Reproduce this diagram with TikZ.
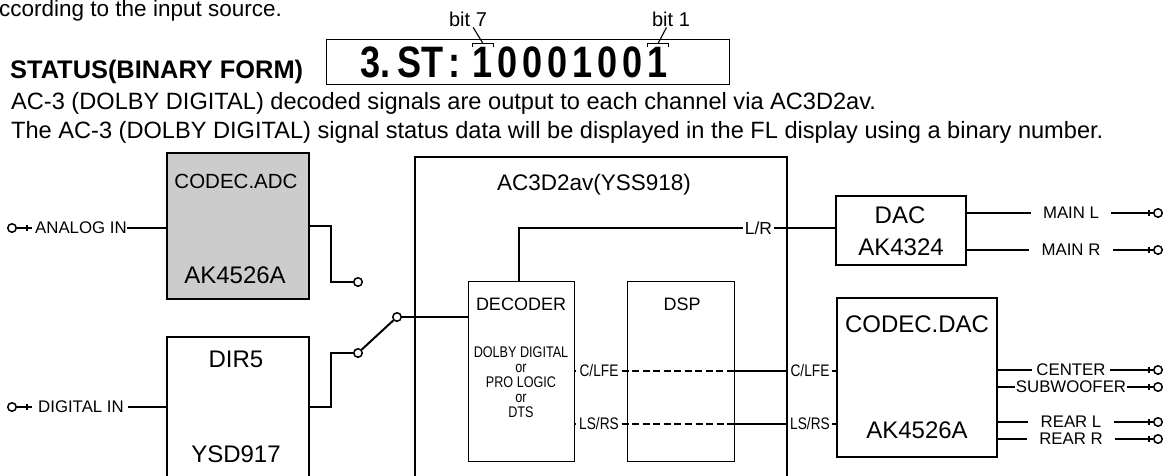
\documentclass[tikz,border=0pt]{standalone}
\usepackage{fontspec}
\setmainfont{Liberation Sans}
\newfontfamily\condfont[FakeStretch=0.82]{Liberation Sans}

\begin{document}
\begin{tikzpicture}[x=1pt, y=-1pt,
  box/.style = {draw, line width=2pt, inner sep=0},
  inbox/.style = {draw, line width=1pt, inner sep=0},
  wire/.style = {line width=2pt},
  twire/.style = {line width=1.1pt},
  term/.style = {draw, circle, line width=1.5pt, minimum size=8.5pt, inner sep=0},
  txt/.style = {anchor=base west, inner sep=0, font=\fontsize{23.6}{26}\selectfont},
  lbl/.style = {inner sep=0, font=\fontsize{16.8}{18}\selectfont},
  chl/.style = {inner xsep=3pt, inner ysep=0, font=\condfont\fontsize{16.7}{18}\selectfont},
  big/.style = {anchor=base, inner sep=0, font=\fontsize{24}{26}\selectfont},
  fl/.style = {anchor=base west, inner sep=0, font=\condfont\bfseries\fontsize{44}{46}\selectfont}]
\clip (0,0) rectangle (1166,475);

% heading
\node[txt, font=\fontsize{22.5}{24}\selectfont] (top) at (-1,16) {ccording to the input source.};
\node[anchor=base west, inner sep=0, font=\bfseries\fontsize{25.4}{27}\selectfont] (stat) at (10,78) {STATUS(BINARY FORM)};
\node[draw, line width=1pt, minimum width=403pt, minimum height=45pt] (stbox) at (527.5,61.5) {};
\node[fl] (st3) at (360,77) {3.};
\node[fl] (stst) at (397,77) {ST};
\node[fl] (stcol) at (448,77) {:};
\foreach \b [count=\i from 0] in {1,0,0,0,1,0,0,1}
  \node[fl, anchor=base] (dg\i) at (483+25*\i,77) {\b};
\draw[twire] (dg0.north west) -- ([yshift=3pt]dg0.north west) -- ([yshift=3pt]dg0.north east) -- (dg0.north east);
\draw[twire] (dg7.north west) -- ([yshift=3pt]dg7.north west) -- ([yshift=3pt]dg7.north east) -- (dg7.north east);
\node[anchor=base, inner sep=1pt, font=\fontsize{20}{22}\selectfont] (b7) at (468,26) {bit 7};
\node[anchor=base, inner sep=1pt, font=\fontsize{20}{22}\selectfont] (b1) at (671,26) {bit 1};
\draw[twire] (b7) -- ([yshift=3pt]dg0.north);
\draw[twire] (b1) -- ([yshift=3pt]dg7.north);
\node[txt] (ln1) at (11,109) {AC-3 (DOLBY DIGITAL) decoded signals are output to each channel via AC3D2av.};
\node[txt] (ln2) at (11,138) {The AC-3 (DOLBY DIGITAL) signal status data will be displayed in the FL display using a binary number.};

% blocks
\node[box, fill=gray!40, minimum width=142pt, minimum height=146pt] (adc) at (238,226) {};
\node[big, font=\fontsize{20.5}{22}\selectfont] (adct) at (236,188) {CODEC.ADC};
\node[big] (adcb) at (235,283) {AK4526A};
\node[box, minimum width=142pt, minimum height=163pt] (dir) at (238,418.5) {};
\node[big] (dirt) at (236,367) {DIR5};
\node[big] (dirb) at (236,462) {YSD917};
\node[box, minimum width=372pt, minimum height=343pt] (ac3) at (601,328.5) {};
\node[big, font=\fontsize{22.5}{24}\selectfont] (ac3t) at (594,190) {AC3D2av(YSS918)};
\node[inbox, minimum width=106pt, minimum height=180pt] (dec) at (521,371) {};
\node[big, font=\fontsize{18}{20}\selectfont] (dect) at (521,310) {DECODER};
\node[anchor=north, inner sep=0, align=center, font=\condfont\fontsize{15.4}{15}\selectfont] (dalg) at (521,347) {DOLBY DIGITAL\\or\\PRO LOGIC\\or\\DTS};
\node[inbox, minimum width=107pt, minimum height=180pt] (dsp) at (680.5,371) {};
\node[big, font=\fontsize{18}{20}\selectfont] (dspt) at (682,310) {DSP};
\node[box, minimum width=130pt, minimum height=69pt] (dac) at (901,230.5) {};
\node[big] (dact) at (900,223) {DAC};
\node[big] (dacb) at (901,255) {AK4324};
\node[box, minimum width=160pt, minimum height=159pt] (cdac) at (917,377.5) {};
\node[big] (cdact) at (917,332) {CODEC.DAC};
\node[big] (cdacb) at (917,438) {AK4526A};

% inputs
\node[term] (tain) at (12,228) {};
\node[lbl, anchor=west] (ain) at (35,228) {ANALOG IN};
\draw[wire] (tain) -- ([xshift=-3pt]ain.west);
\draw[wire] ([xshift=-8pt]ain.west) ++(0,-3) -- ++(0,6);
\draw[wire] (ain) -- (ain -| adc.west);
\node[term] (tdin) at (12,407) {};
\node[lbl, anchor=west] (din) at (38,407) {DIGITAL IN};
\draw[wire] (tdin) -- ([xshift=-6pt]din.west);
\draw[wire] ([xshift=-11pt]din.west) ++(0,-3) -- ++(0,6);
\draw[wire] ([xshift=4pt]din.east) -- (din -| dir.west);

% selector
\node[term] (sa) at (358,282) {};
\node[term] (sd) at (358,353) {};
\node[term] (sc) at (397,317) {};
\draw[wire] (adc.east) -- ++(21,0) |- (sa);
\draw[wire] (dir.east |- din) -- ++(21,0) |- (sd);
\draw[wire] (sd) -- (sc);
\draw[wire] (sc) -- (sc -| ac3.west);
\draw[twire] (sc -| ac3.west) -- (sc -| dec.west);

% channels
\node[lbl, inner xsep=2pt, font=\fontsize{17.4}{19}\selectfont] (lr) at (758.5,228) {L/R};
\draw[twire] ([xshift=-2pt]dec.north) |- (lr);
\draw[twire] (lr) -- (lr -| ac3.east);
\draw[wire] (lr -| ac3.east) -- (lr -| dac.west);
\node[chl] (clfe) at (599,371) {C/LFE};
\node[chl] (lsrs) at (599,424) {LS/RS};
\node[chl, inner xsep=2pt] (clfeout) at (810,371) {C/LFE};
\node[chl, inner xsep=2pt] (lsrsout) at (810,424) {LS/RS};
\draw[twire] (dec.east |- clfe) -- (clfe);
\draw[twire] (dec.east |- lsrs) -- (lsrs);
\draw[twire, dash pattern=on 7pt off 3.5pt] (clfe) -- (clfe -| dsp.east);
\draw[twire, dash pattern=on 7pt off 3.5pt] (lsrs) -- (lsrs -| dsp.east);
\draw[twire] (clfe -| dsp.east) -- (clfeout);
\draw[twire] (lsrs -| dsp.east) -- (lsrsout);
\draw[twire] (clfeout) -- (clfeout -| cdac.west);
\draw[twire] (lsrsout) -- (lsrsout -| cdac.west);

% outputs
\foreach \nm/\src/\y/\sep/\txt in {ml/dac/213/12pt/MAIN L, mr/dac/250/12pt/MAIN R, ce/cdac/370/4pt/CENTER, sw/cdac/387/1pt/SUBWOOFER, rl/cdac/422/12pt/REAR L, rr/cdac/439/12pt/REAR R} {
  \node[lbl, inner xsep=\sep] (\nm) at (1071,\y) {\txt};
  \node[term] (t\nm) at (1158,\y) {};
  \draw[wire] (\src.east |- \nm) -- (\nm);
  \draw[wire] (\nm) -- (t\nm);
  \draw[wire] ([xshift=-4pt]t\nm.west) ++(0,-3) -- ++(0,6);
}
\end{tikzpicture}
\end{document}
